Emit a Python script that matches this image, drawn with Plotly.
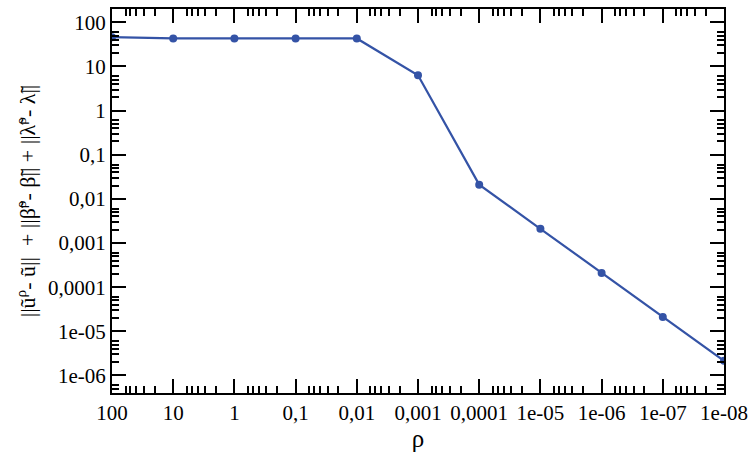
import plotly.graph_objects as go

# data
rho = [100, 10, 1, 0.1, 0.01, 0.001, 0.0001, 1e-05, 1e-06, 1e-07, 1e-08]
err = [46, 43, 43, 43, 43, 6.3, 0.021, 0.0021, 0.00021, 2.1e-05, 2.15e-06]

x_tickvals = [100, 10, 1, 0.1, 0.01, 0.001, 0.0001, 1e-05, 1e-06, 1e-07, 1e-08]
x_ticktext = ["100", "10", "1", "0,1", "0,01", "0,001", "0,0001", "1e-05", "1e-06", "1e-07", "1e-08"]
y_tickvals = [100, 10, 1, 0.1, 0.01, 0.001, 0.0001, 1e-05, 1e-06]
y_ticktext = ["100", "10", "1", "0,1", "0,01", "0,001", "0,0001", "1e-05", "1e-06"]

x_title = "ρ"
y_title = "||ũ<sup>ρ</sup>- ũ||  + ||β̃<sup>ρ</sup>- β̃|| + ||λ̃<sup>ρ</sup>- λ̃||"

minor_mult = [2, 3, 4, 5, 6]
x_minor = [m * 10.0 ** e for e in range(-9, 2) for m in minor_mult]
y_minor = [m * 10.0 ** e for e in range(-7, 2) for m in minor_mult]

color = "#3453a6"
font_family = "Liberation Serif"

fig = go.Figure()
fig.add_trace(go.Scatter(
    x=rho, y=err, mode="lines+markers",
    line=dict(color=color, width=2.2),
    marker=dict(color=color, size=8),
    showlegend=False,
))

axis_common = dict(
    type="log",
    showgrid=False,
    zeroline=False,
    showline=True,
    linecolor="black",
    linewidth=2,
    mirror="allticks",
    ticks="inside",
    ticklen=14,
    tickwidth=1.5,
    tickcolor="black",
    tickfont=dict(family=font_family, size=21, color="black"),
)

fig.update_xaxes(
    **axis_common,
    range=[2, -8],
    tickvals=x_tickvals, ticktext=x_ticktext,
    minor=dict(tickvals=x_minor, ticks="inside", ticklen=7, tickwidth=1.5, tickcolor="black", showgrid=False),
    title=dict(text=x_title, font=dict(family=font_family, size=25, color="black"), standoff=2),
)
fig.update_yaxes(
    **axis_common,
    range=[-6.398, 2.301],
    tickvals=y_tickvals, ticktext=y_ticktext,
    minor=dict(tickvals=y_minor, ticks="inside", ticklen=7, tickwidth=1.5, tickcolor="black", showgrid=False),
    title=dict(text=y_title, font=dict(family=font_family, size=22, color="black"), standoff=6),
)

fig.update_layout(
    width=755, height=452,
    margin=dict(l=112, r=29, t=7, b=50),
    plot_bgcolor="white", paper_bgcolor="white",
    font=dict(family=font_family, color="black"),
)

fig.write_html("out.html", config={"displayModeBar": False},
               post_script="document.body.style.margin='0';document.body.style.padding='0';")
